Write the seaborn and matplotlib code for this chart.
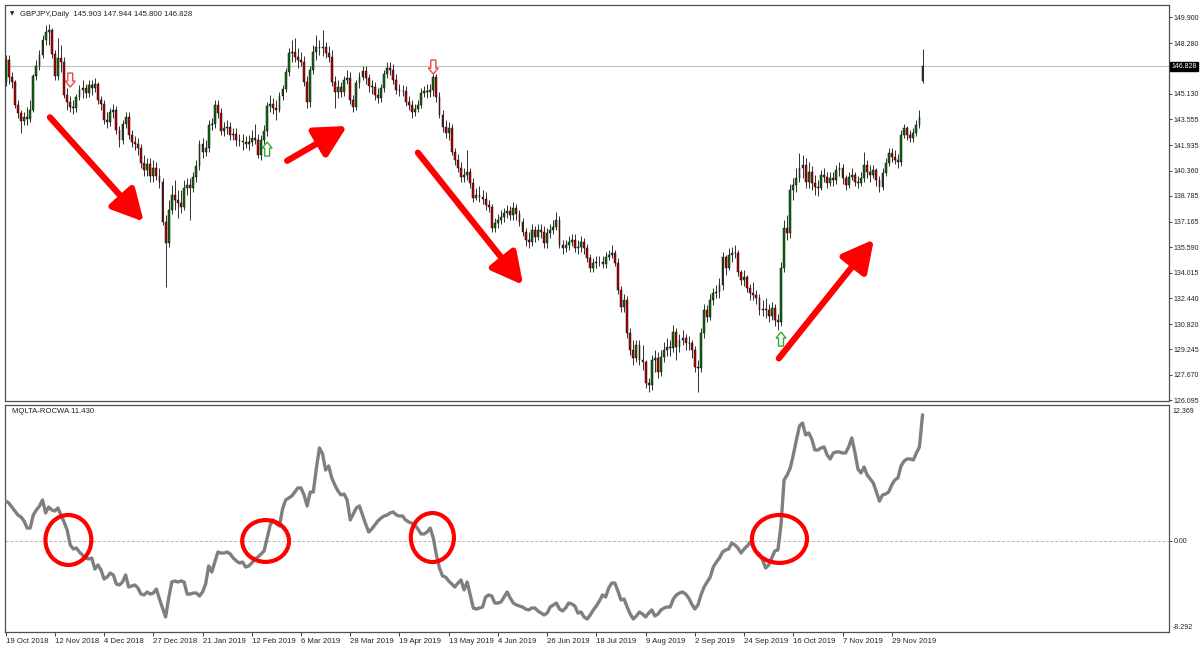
import numpy as np
import pandas as pd
import matplotlib
matplotlib.use("Agg")
import matplotlib.pyplot as plt
import matplotlib.transforms as mtransforms
import matplotlib.patheffects as pe
from matplotlib.patches import Ellipse, Polygon
import seaborn as sns

sns.set_theme(style="white")
plt.rcParams['font.family'] = ['Liberation Sans', 'DejaVu Sans']

# ---- GBPJPY daily candles ----
opens = [145.86, 147.23, 146.17, 145.86, 144.43, 143.93, 143.44, 143.69, 143.56, 144.12,
         146.23, 146.86, 147.54, 148.47, 148.97, 149.09, 147.60, 146.23, 147.35, 147.10,
         145.05, 144.62, 144.31, 144.25, 144.93, 145.36, 145.49, 145.18, 145.67, 145.49,
         145.74, 144.74, 144.49, 143.50, 143.37, 144.00, 144.12, 142.88, 142.26, 143.25,
         143.69, 142.57, 142.13, 142.01, 141.76, 140.83, 140.39, 140.76, 140.02, 140.52,
         140.02, 139.65, 137.16, 135.85, 137.90, 138.84, 138.53, 138.34, 138.09, 139.27,
         139.46, 139.27, 139.96, 140.64, 142.01, 141.51, 141.76, 143.19, 143.25, 144.43,
         143.93, 142.81, 143.00, 143.06, 142.57, 142.63, 142.26, 142.19, 142.13, 142.01,
         142.13, 142.38, 142.26, 141.32, 142.26, 142.81, 144.37, 144.49, 144.25, 144.12,
         144.99, 145.43, 146.48, 147.66, 147.73, 147.41, 147.23, 147.10, 145.86, 144.62,
         146.61, 147.73, 148.04, 147.97, 148.04, 147.66, 147.41, 145.86, 145.24, 145.55,
         145.24, 145.98, 146.11, 144.74, 144.31, 145.80, 146.17, 146.55, 146.11, 145.61,
         145.55, 145.05, 144.87, 145.49, 146.36, 146.73, 146.61, 145.98, 145.36, 145.30,
         145.28, 144.62, 144.43, 144.00, 144.18, 144.43, 145.18, 145.30, 145.24, 145.36,
         146.17, 144.93, 143.81, 143.06, 142.69, 143.00, 141.51, 141.01, 140.52, 139.96,
         140.08, 140.27, 139.58, 138.65, 138.84, 138.71, 138.59, 138.22, 138.09, 136.79,
         137.10, 137.28, 137.47, 137.72, 137.84, 137.59, 138.03, 137.66, 137.16, 136.54,
         136.04, 135.92, 136.66, 136.23, 136.66, 136.54, 135.85, 136.48, 136.66, 136.85,
         137.28, 135.73, 135.54, 135.73, 135.92, 136.04, 135.54, 135.61, 135.92, 135.54,
         134.92, 134.30, 134.61, 134.67, 134.66, 134.55, 134.98, 135.11, 135.23, 134.61,
         132.93, 131.88, 132.31, 130.26, 129.21, 128.71, 129.51, 128.58, 128.46, 127.15,
         127.03, 128.58, 128.71, 127.84, 128.77, 129.21, 129.39, 129.33, 130.32, 129.39,
         129.83, 129.95, 129.64, 129.62, 129.21, 128.15, 128.08, 130.26, 131.69, 131.26,
         132.31, 132.75, 132.81, 133.24, 134.98, 134.30, 135.11, 135.23, 135.21, 134.05,
         133.55, 133.74, 133.06, 132.75, 132.62, 132.44, 131.69, 131.75, 131.69, 131.32,
         131.81, 131.07, 130.95, 134.30, 136.79, 136.48, 139.15, 139.46, 139.90, 140.52,
         140.70, 139.65, 140.27, 139.58, 139.34, 139.27, 140.08, 139.96, 139.58, 139.90,
         139.77, 140.39, 140.52, 139.90, 139.46, 139.96, 140.08, 139.65, 139.58, 139.90,
         140.70, 140.27, 140.08, 140.39, 139.77, 139.34, 140.21, 140.83, 141.45, 141.20,
         141.01, 140.89, 142.57, 143.00, 142.57, 142.38, 142.69, 143.19, 145.903]

closes = [147.23, 146.17, 145.86, 144.43, 143.93, 143.44, 143.69, 143.56, 144.12, 146.23,
          146.86, 147.54, 148.47, 148.97, 149.09, 147.60, 146.23, 147.35, 147.10, 145.05,
          144.62, 144.31, 144.25, 144.93, 145.36, 145.49, 145.18, 145.67, 145.49, 145.74,
          144.74, 144.49, 143.50, 143.37, 144.00, 144.12, 142.88, 142.26, 143.25, 143.69,
          142.57, 142.13, 142.01, 141.76, 140.83, 140.39, 140.76, 140.02, 140.52, 140.02,
          139.65, 137.16, 135.85, 137.90, 138.84, 138.53, 138.34, 138.09, 139.27, 139.46,
          139.27, 139.96, 140.64, 142.01, 141.51, 141.76, 143.19, 143.25, 144.43, 143.93,
          142.81, 143.00, 143.06, 142.57, 142.63, 142.26, 142.19, 142.13, 142.01, 142.13,
          142.38, 142.26, 141.32, 142.26, 142.81, 144.37, 144.49, 144.25, 144.12, 144.99,
          145.43, 146.48, 147.66, 147.73, 147.41, 147.23, 147.10, 145.86, 144.62, 146.61,
          147.73, 148.04, 147.97, 148.04, 147.66, 147.41, 145.86, 145.24, 145.55, 145.24,
          145.98, 146.11, 144.74, 144.31, 145.80, 146.17, 146.55, 146.11, 145.61, 145.55,
          145.05, 144.87, 145.49, 146.36, 146.73, 146.61, 145.98, 145.36, 145.30, 145.28,
          144.62, 144.43, 144.00, 144.18, 144.43, 145.18, 145.30, 145.24, 145.36, 146.17,
          144.93, 143.81, 143.06, 142.69, 143.00, 141.51, 141.01, 140.52, 139.96, 140.08,
          140.27, 139.58, 138.65, 138.84, 138.71, 138.59, 138.22, 138.09, 136.79, 137.10,
          137.28, 137.47, 137.72, 137.84, 137.59, 138.03, 137.66, 137.16, 136.54, 136.04,
          135.92, 136.66, 136.23, 136.66, 136.54, 135.85, 136.48, 136.66, 136.85, 137.28,
          135.73, 135.54, 135.73, 135.92, 136.04, 135.54, 135.61, 135.92, 135.54, 134.92,
          134.30, 134.61, 134.67, 134.66, 134.55, 134.98, 135.11, 135.23, 134.61, 132.93,
          131.88, 132.31, 130.26, 129.21, 128.71, 129.51, 128.58, 128.46, 127.15, 127.03,
          128.58, 128.71, 127.84, 128.77, 129.21, 129.39, 129.33, 130.32, 129.39, 129.83,
          129.95, 129.64, 129.62, 129.21, 128.15, 128.08, 130.26, 131.69, 131.26, 132.31,
          132.75, 132.81, 133.24, 134.98, 134.30, 135.11, 135.23, 135.21, 134.05, 133.55,
          133.74, 133.06, 132.75, 132.62, 132.44, 131.69, 131.75, 131.69, 131.32, 131.81,
          131.07, 130.95, 134.30, 136.79, 136.48, 139.15, 139.46, 139.90, 140.52, 140.70,
          139.65, 140.27, 139.58, 139.34, 139.27, 140.08, 139.96, 139.58, 139.90, 139.77,
          140.39, 140.52, 139.90, 139.46, 139.96, 140.08, 139.65, 139.58, 139.90, 140.70,
          140.27, 140.08, 140.39, 139.77, 139.34, 140.21, 140.83, 141.45, 141.20, 141.01,
          140.89, 142.57, 143.00, 142.57, 142.38, 142.69, 143.19, 143.69, 146.828]

highs = [147.54, 147.54, 146.48, 145.98, 144.74, 144.12, 144.00, 144.31, 144.74, 146.36,
         147.23, 147.85, 148.78, 149.40, 149.46, 149.22, 147.85, 148.60, 148.16, 147.41,
         145.49, 144.99, 144.74, 145.12, 145.67, 145.98, 145.74, 145.98, 145.98, 146.11,
         145.86, 144.99, 144.74, 144.00, 144.25, 144.49, 144.37, 143.12, 143.50, 144.00,
         144.00, 142.88, 142.50, 142.38, 142.01, 141.32, 141.14, 141.14, 141.01, 140.89,
         140.52, 139.90, 137.59, 138.53, 139.46, 139.77, 139.15, 139.15, 139.77, 139.90,
         139.90, 140.27, 141.01, 142.26, 142.38, 142.26, 143.50, 143.62, 144.74, 144.74,
         144.25, 143.37, 143.50, 143.37, 143.00, 143.00, 142.63, 142.63, 142.50, 142.57,
         142.88, 143.25, 142.63, 142.57, 143.19, 144.62, 145.05, 144.87, 144.74, 145.24,
         145.67, 146.73, 147.97, 148.47, 148.60, 147.97, 147.73, 147.47, 146.23, 146.86,
         148.16, 148.78, 148.47, 149.09, 148.35, 148.10, 147.85, 146.23, 145.98, 145.86,
         146.23, 146.61, 146.48, 145.05, 145.98, 146.48, 146.86, 146.86, 146.36, 145.98,
         145.86, 145.49, 145.74, 146.61, 147.10, 147.10, 146.98, 146.36, 145.74, 145.67,
         145.61, 144.99, 144.74, 144.49, 144.74, 145.49, 145.61, 145.74, 145.74, 146.36,
         146.36, 145.24, 144.12, 143.50, 143.37, 143.25, 141.76, 141.39, 140.89, 140.52,
         141.63, 140.52, 139.90, 139.27, 139.40, 139.15, 139.02, 138.53, 138.28, 137.41,
         137.66, 137.90, 138.03, 138.22, 138.15, 138.40, 138.28, 137.90, 137.41, 136.79,
         136.54, 137.03, 136.91, 137.03, 137.03, 136.91, 136.79, 137.03, 137.28, 137.78,
         137.53, 136.04, 136.04, 136.29, 136.42, 136.42, 136.04, 136.29, 136.17, 135.79,
         135.17, 134.92, 135.05, 135.05, 135.05, 135.30, 135.42, 135.73, 135.42, 134.92,
         133.18, 132.69, 132.56, 130.57, 129.83, 129.83, 129.83, 129.51, 128.58, 127.47,
         128.89, 129.21, 129.08, 129.21, 129.70, 129.95, 129.83, 130.76, 130.57, 130.20,
         130.45, 130.20, 130.07, 129.83, 129.45, 128.58, 130.57, 132.06, 132.00, 132.69,
         133.06, 133.24, 133.68, 135.30, 135.11, 135.54, 135.61, 135.73, 135.42, 134.18,
         134.18, 133.87, 133.31, 133.43, 132.93, 132.69, 132.31, 132.44, 132.06, 132.19,
         132.06, 131.44, 134.67, 137.28, 137.59, 139.52, 139.90, 140.52, 141.45, 141.32,
         141.14, 140.89, 140.64, 140.08, 139.77, 140.39, 140.52, 140.27, 140.27, 140.27,
         140.70, 140.89, 140.76, 140.08, 140.27, 140.52, 140.27, 140.02, 140.27, 141.51,
         141.01, 140.70, 140.70, 140.52, 140.02, 140.52, 141.14, 141.76, 141.76, 141.63,
         141.39, 142.88, 143.25, 143.12, 142.88, 143.00, 143.50, 144.12, 147.944]

lows = [145.61, 145.74, 145.49, 144.25, 143.62, 142.69, 143.19, 143.19, 143.37, 144.00,
        145.98, 146.61, 147.35, 148.16, 148.16, 147.35, 145.98, 145.98, 146.48, 144.87,
        144.12, 144.00, 143.87, 144.00, 144.74, 144.87, 144.87, 144.93, 145.05, 145.24,
        144.49, 144.12, 143.25, 143.00, 143.12, 143.62, 142.63, 141.82, 142.01, 143.00,
        142.32, 141.82, 141.63, 141.32, 140.52, 140.02, 140.02, 139.65, 139.65, 139.77,
        139.27, 136.97, 133.12, 135.61, 137.66, 137.90, 137.41, 137.72, 137.90, 138.84,
        137.28, 139.02, 139.65, 140.39, 141.14, 141.26, 141.51, 142.88, 143.00, 143.62,
        142.57, 142.50, 142.63, 142.26, 142.26, 141.88, 141.88, 141.63, 141.76, 141.63,
        141.88, 142.01, 141.14, 141.01, 142.01, 142.50, 144.00, 143.87, 143.50, 144.00,
        144.74, 145.24, 146.23, 147.10, 147.10, 146.73, 146.86, 145.61, 144.25, 144.31,
        146.36, 147.23, 147.54, 147.47, 147.35, 147.10, 145.61, 144.25, 144.87, 144.93,
        144.99, 145.74, 144.49, 144.00, 144.12, 145.49, 145.98, 145.74, 145.24, 145.12,
        144.74, 144.56, 144.62, 145.24, 146.11, 146.30, 145.74, 145.12, 144.99, 144.99,
        144.37, 144.12, 143.62, 143.75, 144.00, 144.25, 144.93, 144.87, 144.93, 144.99,
        144.62, 143.62, 142.75, 142.38, 142.26, 141.32, 140.70, 140.27, 139.65, 139.65,
        139.77, 139.27, 138.40, 138.53, 138.40, 138.28, 137.90, 137.78, 136.54, 136.54,
        136.79, 137.03, 137.16, 137.41, 137.28, 137.28, 137.28, 136.91, 136.29, 135.67,
        135.54, 135.67, 135.92, 136.04, 136.17, 135.54, 135.54, 136.17, 136.42, 136.66,
        135.54, 135.17, 135.30, 135.42, 135.67, 135.30, 135.17, 135.30, 135.17, 134.67,
        134.05, 134.05, 134.30, 134.42, 134.30, 134.30, 134.80, 134.92, 134.42, 132.69,
        131.57, 131.57, 129.95, 128.89, 128.27, 128.46, 128.27, 127.96, 126.84, 126.59,
        126.72, 127.84, 127.47, 127.59, 128.46, 128.83, 128.83, 129.08, 128.58, 129.08,
        129.51, 129.21, 129.21, 128.71, 127.84, 126.59, 127.84, 129.95, 130.95, 131.07,
        132.00, 132.44, 132.44, 132.93, 133.87, 134.18, 134.67, 134.92, 133.80, 133.24,
        133.18, 132.81, 132.31, 132.31, 132.06, 131.38, 131.32, 131.20, 130.95, 131.07,
        130.70, 130.45, 130.70, 134.05, 136.04, 136.17, 138.53, 139.02, 139.65, 139.90,
        139.27, 139.27, 139.15, 138.84, 138.78, 139.15, 139.65, 139.27, 139.40, 139.40,
        139.52, 140.02, 139.52, 139.15, 139.27, 139.77, 139.40, 139.27, 139.40, 139.65,
        139.90, 139.65, 139.90, 139.40, 139.02, 139.15, 140.02, 140.64, 140.89, 140.76,
        140.52, 140.64, 142.38, 142.26, 142.13, 142.13, 142.50, 143.00, 145.800]

# ---- MQLTA-ROCWA oscillator ----
rocwa = [3.92, 3.73, 3.33, 2.94, 2.55, 2.35, 1.96, 1.27, 1.27, 2.55,
         3.04, 3.43, 4.02, 2.75, 3.33, 3.04, 2.94, 3.24, 2.55, 1.86,
         1.08, -0.39, -0.78, -0.69, -1.08, -1.37, -1.67, -1.76, -1.67, -2.75,
         -2.35, -2.84, -3.73, -3.53, -3.14, -3.33, -4.22, -4.31, -4.02, -3.33,
         -4.51, -4.41, -4.31, -4.61, -5.20, -5.29, -5.00, -5.20, -5.10, -4.71,
         -5.69, -6.57, -7.45, -5.59, -4.02, -3.92, -4.02, -3.92, -4.02, -5.20,
         -5.20, -5.10, -5.10, -5.39, -5.00, -4.22, -2.45, -3.04, -2.06, -1.08,
         -1.18, -1.18, -1.08, -1.27, -1.67, -1.96, -2.16, -2.06, -2.55, -2.45,
         -2.16, -1.76, -1.57, -1.27, -0.98, 0.29, 1.57, 2.06, 1.67, 1.47,
         3.14, 4.02, 4.22, 4.41, 4.80, 5.20, 5.20, 4.51, 3.43, 4.80,
         4.80, 7.16, 9.12, 8.53, 6.96, 7.35, 6.18, 5.49, 4.90, 4.51,
         4.61, 4.02, 2.06, 2.65, 3.24, 3.43, 2.55, 1.67, 0.88, 1.18,
         1.57, 1.96, 2.25, 2.45, 2.55, 2.75, 2.84, 2.55, 2.45, 2.45,
         2.06, 1.86, 1.76, 1.57, 1.18, 0.69, 0.69, 0.88, 1.27, 0.29,
         -1.37, -2.65, -3.43, -3.53, -3.92, -4.22, -4.51, -4.12, -3.82, -4.80,
         -4.02, -5.29, -6.57, -6.67, -6.57, -6.47, -5.49, -5.29, -5.39, -6.08,
         -6.08, -5.98, -5.49, -5.00, -5.59, -6.08, -6.27, -6.37, -6.47, -6.67,
         -6.76, -6.57, -6.57, -6.86, -7.06, -7.25, -7.06, -6.47, -6.27, -6.08,
         -6.67, -6.86, -6.57, -6.08, -6.18, -6.37, -7.06, -6.96, -7.45, -7.65,
         -7.25, -6.76, -6.37, -5.88, -5.29, -5.49, -4.61, -4.12, -4.12, -4.90,
         -5.78, -5.69, -6.47, -7.16, -7.65, -7.35, -6.96, -7.16, -7.45, -7.06,
         -6.76, -7.35, -7.16, -6.76, -6.57, -6.47, -6.47, -5.69, -5.29, -5.10,
         -5.00, -5.20, -5.59, -6.18, -6.67, -6.27, -5.29, -4.51, -4.02, -3.53,
         -2.55, -2.06, -1.67, -1.08, -0.88, -0.78, -0.20, -0.39, -0.69, -1.18,
         -0.78, -0.49, -0.10, -0.59, -1.08, -1.27, -1.86, -2.65, -2.35, -1.67,
         -0.98, -0.88, 1.57, 5.98, 6.47, 7.16, 8.43, 9.90, 11.27, 11.57,
         10.39, 10.59, 10.00, 8.92, 8.92, 9.12, 9.22, 8.43, 8.04, 8.63,
         8.73, 8.73, 8.63, 8.63, 9.22, 10.10, 8.73, 7.06, 6.67, 7.25,
         6.47, 6.08, 5.69, 4.80, 3.92, 4.51, 4.61, 4.80, 5.49, 5.98,
         6.18, 7.35, 7.84, 8.04, 8.04, 7.94, 8.63, 9.22, 12.37]

date_labels = ["19 Oct 2018", "12 Nov 2018", "4 Dec 2018", "27 Dec 2018", "21 Jan 2019",
               "12 Feb 2019", "6 Mar 2019", "28 Mar 2019", "19 Apr 2019", "13 May 2019",
               "4 Jun 2019", "26 Jun 2019", "18 Jul 2019", "9 Aug 2019", "2 Sep 2019",
               "24 Sep 2019", "16 Oct 2019", "7 Nov 2019", "29 Nov 2019"]
price_ticks = [149.900, 148.280, 145.130, 143.555, 141.935, 140.360, 138.785, 137.165,
               135.590, 134.015, 132.440, 130.820, 129.245, 127.670, 126.095]
last_price = 146.828
osc_max, osc_min = 12.369, -8.292
main_title = "GBPJPY,Daily  145.903 147.944 145.800 146.828"
osc_title = "MQLTA-ROCWA 11.430"

# signal arrows: (bar, tip price)
sell_signals = [(21, 145.55), (139, 146.36)]
buy_signals = [(85, 142.13), (252, 130.32)]
# hand drawn trend arrows: (tail bar, tail price) -> (head bar, head price)
trend_arrows = [((14.4, 143.67), (44.9, 137.18)),
                ((91.5, 140.97), (111.0, 143.13)),
                ((134.0, 141.47), (168.2, 133.25)),
                ((251.3, 128.69), (282.2, 136.08))]
# red circles on the oscillator: (bar, value, width in bars, height)
circles = [(20.4, 0.1, 14.9, 4.9), (84.5, 0.0, 15.2, 4.1),
           (138.7, 0.34, 14.0, 4.8), (251.5, 0.2, 17.9, 4.7)]

df = pd.DataFrame({"bar": np.arange(len(closes)), "open": opens, "high": highs,
                   "low": lows, "close": closes, "rocwa": rocwa})
df["up"] = df["close"] >= df["open"]

W, H = 1200, 650
AX_W = 1164
fig = plt.figure(figsize=(W / 100, H / 100), dpi=100)
ax1 = fig.add_axes([5 / W, 1 - 401 / H, AX_W / W, 396 / H])
ax2 = fig.add_axes([5 / W, 1 - 632 / H, AX_W / W, 227 / H], sharex=ax1)

xmin, xmax = -0.2, 378.1
ylo, yhi = 126.04, 150.65
olo, ohi = -8.92, 13.33
FS = 5.0
TXT = "#222222"

# candles
bull, bear = "#0b6e0b", "#b80000"
ax1.vlines(df["bar"], df["low"], df["high"], color="#303030", lw=0.7, zorder=2)
ax1.bar(df["bar"], df["close"] - df["open"], bottom=df["open"], width=0.62,
        color=np.where(df["up"], bull, bear), edgecolor="#101010", linewidth=0.35, zorder=3)
ax1.axhline(last_price, color="#c4c4c4", lw=0.9, zorder=1)

ax1.set_xlim(xmin, xmax)
ax1.set_ylim(ylo, yhi)
ax1.yaxis.tick_right()
ax1.set_yticks(price_ticks)
ax1.set_yticklabels([f"{p:.3f}" for p in price_ticks])
ax1.tick_params(axis="y", labelsize=FS, length=2.5, width=0.6, pad=0.8, colors=TXT,
                direction="out", right=True)
ax1.tick_params(axis="x", bottom=False, labelbottom=False)

tr1 = mtransforms.blended_transform_factory(ax1.transAxes, ax1.transData)
ax1.text(1.002, last_price, f"{last_price:.3f}", transform=tr1, color="white", fontsize=FS,
         va="center", ha="left", bbox=dict(boxstyle="square,pad=0.2", fc="black", ec="black"))
ax1.text(0.004, 0.984, "\u25BC", transform=ax1.transAxes, fontsize=4, va="top", ha="left",
         family=["DejaVu Sans"], color=TXT)
ax1.text(0.0125, 0.985, main_title, transform=ax1.transAxes, fontsize=5.6, va="top",
         ha="left", color=TXT)

# hollow signal arrows (drawn in pixel units, converted to data units)
bx = (xmax - xmin) / AX_W     # bars per pixel
py = (yhi - ylo) / 396.0      # price per pixel
def signal_arrow(ax, b, tip, down, ec):
    s = 1 if down else -1     # down arrow: body sits above its tip
    pts = [(-5, 6), (0, 0), (5, 6), (2.5, 6), (2.5, 14), (-2.5, 14), (-2.5, 6)]
    verts = [(b + dx * bx, tip + s * dy * py) for dx, dy in pts]
    ax.add_patch(Polygon(verts, closed=True, fc="white", ec=ec, lw=1.0, zorder=5))

for b, tip in sell_signals:
    signal_arrow(ax1, b, tip, True, "#f04848")
for b, tip in buy_signals:
    signal_arrow(ax1, b, tip, False, "#3aa83a")

for (x0, y0), (x1, y1) in trend_arrows:
    ax1.annotate("", xy=(x1, y1), xytext=(x0, y0),
                 arrowprops=dict(arrowstyle="-|>,head_length=1.05,head_width=0.55",
                                 mutation_scale=18, color="#ff0000", lw=4.5,
                                 shrinkA=0, shrinkB=0,
                                 path_effects=[pe.withSimplePatchShadow(offset=(1.5, -1.5),
                                                                        alpha=0.25)]),
                 zorder=6)

# oscillator
sns.lineplot(data=df, x="bar", y="rocwa", ax=ax2, color="#7f7f7f", linewidth=2.4, zorder=3)
ax2.axhline(0, color="#b4b4b4", lw=0.7, ls=(0, (3, 2)), zorder=1)
for cx, cy, cw, ch in circles:
    ax2.add_patch(Ellipse((cx, cy), cw, ch, fill=False, ec="#ff0000", lw=3.0, zorder=5))

ax2.set_xlim(xmin, xmax)
ax2.set_ylim(olo, ohi)
ax2.set_xlabel("")
ax2.set_ylabel("")
ax2.yaxis.tick_right()
ax2.set_yticks([0])
ax2.set_yticklabels(["0.00"])
ax2.tick_params(axis="y", labelsize=FS, length=2.5, width=0.6, pad=0.8, colors=TXT,
                direction="out", right=True)
ax2.set_xticks(np.arange(len(date_labels)) * 16)
ax2.set_xticklabels(date_labels)
ax2.tick_params(axis="x", labelsize=5.6, length=3, width=0.6, pad=1.5, colors=TXT,
                direction="out", bottom=True)
for lbl in ax2.get_xticklabels():
    lbl.set_ha("left")
ax2.text(1.003, 0.985, f"{osc_max:.3f}", transform=ax2.transAxes, fontsize=FS,
         va="top", ha="left", color=TXT)
ax2.text(1.003, 0.022, f"{osc_min:.3f}", transform=ax2.transAxes, fontsize=FS,
         va="center", ha="left", color=TXT)
ax2.text(0.006, 0.985, osc_title, transform=ax2.transAxes, fontsize=5.6, va="top",
         ha="left", color=TXT)

for ax in (ax1, ax2):
    ax.set_facecolor("white")
    for sp in ax.spines.values():
        sp.set_visible(True)
        sp.set_color("#505050")
        sp.set_linewidth(0.9)

fig.savefig("out.png", dpi=100)
